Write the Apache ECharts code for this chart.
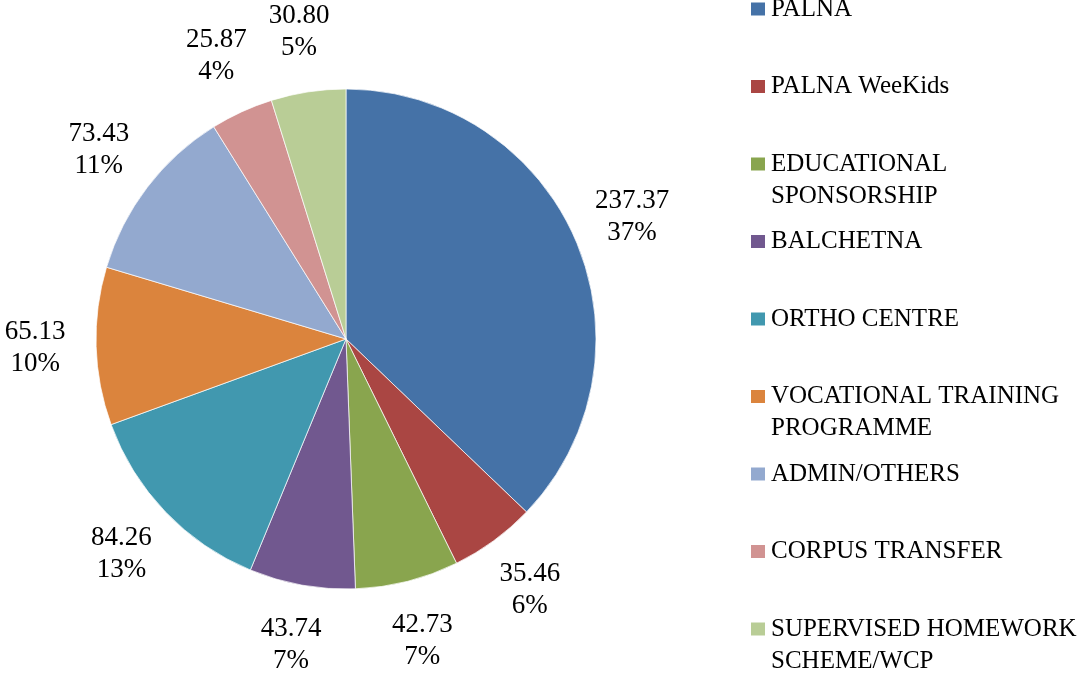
<!DOCTYPE html>
<html>
<head>
<meta charset="utf-8">
<script src="https://cdn.jsdelivr.net/npm/echarts@6/dist/echarts.min.js"></script>
<style>
  html, body { margin: 0; padding: 0; background: #fff; }
  #chart { width: 1086px; height: 674px; }
</style>
</head>
<body>
<div id="chart"></div>
<script>
// data
const categories = [
  "PALNA",
  "PALNA WeeKids",
  "EDUCATIONAL\nSPONSORSHIP",
  "BALCHETNA",
  "ORTHO CENTRE",
  "VOCATIONAL TRAINING\nPROGRAMME",
  "ADMIN/OTHERS",
  "CORPUS TRANSFER",
  "SUPERVISED HOMEWORK\nSCHEME/WCP"
];
const amounts = [237.37, 35.46, 42.73, 43.74, 84.26, 65.13, 73.43, 25.87, 30.80];
const colors = ["#4572A7", "#AA4643", "#89A54E", "#71588F", "#4198AF", "#DB843D", "#93A9CF", "#D19392", "#B9CD96"];

const total = amounts.reduce((a, b) => a + b, 0);
const pieData = categories.map((name, i) => ({ name: name, value: amounts[i] }));

const FONT = "Liberation Serif";
const LH = 32;

const myChart = echarts.init(document.getElementById("chart"));

const option = {
  color: colors,
  animation: false,
  legend: {
    orient: "vertical",
    left: 749,
    top: -39,
    height: 900,
    padding: 0,
    itemGap: 77.5 - LH * 3,
    itemWidth: 16,
    itemHeight: 15,
    icon: "rect",
    selectedMode: false,
    data: categories,
    // every entry is 3 lines (blank first) so the marker sits on the name's first line
    formatter: (name) => " \n" + (name.indexOf("\n") >= 0 ? name : name + "\n "),
    textStyle: {
      fontFamily: FONT,
      fontSize: 25,
      lineHeight: LH,
      color: "#000",
      backgroundColor: "rgba(0,0,0,0)"
    }
  },
  series: [
    {
      type: "pie",
      center: [346, 339],
      radius: 250,
      startAngle: 90,
      data: pieData,
      label: { show: false },
      labelLine: { show: false },
      itemStyle: { borderColor: "#fff", borderWidth: 0.7 },
      emphasis: { disabled: true }
    },
    {
      // invisible ring only used to place the value labels
      type: "pie",
      center: [346, 339],
      radius: [250, 366],
      startAngle: 90,
      silent: true,
      legendHoverLink: false,
      data: pieData,
      itemStyle: { color: "rgba(0,0,0,0)", borderWidth: 0 },
      emphasis: { disabled: true },
      labelLine: { show: false },
      label: {
        show: true,
        position: "inside",
        fontFamily: FONT,
        fontSize: 27,
        lineHeight: LH,
        color: "#000",
        align: "center",
        formatter: (p) => p.value.toFixed(2) + "\n" + Math.round(p.value / total * 100) + "%"
      }
    }
  ]
};

option && myChart.setOption(option);
</script>
</body>
</html>
